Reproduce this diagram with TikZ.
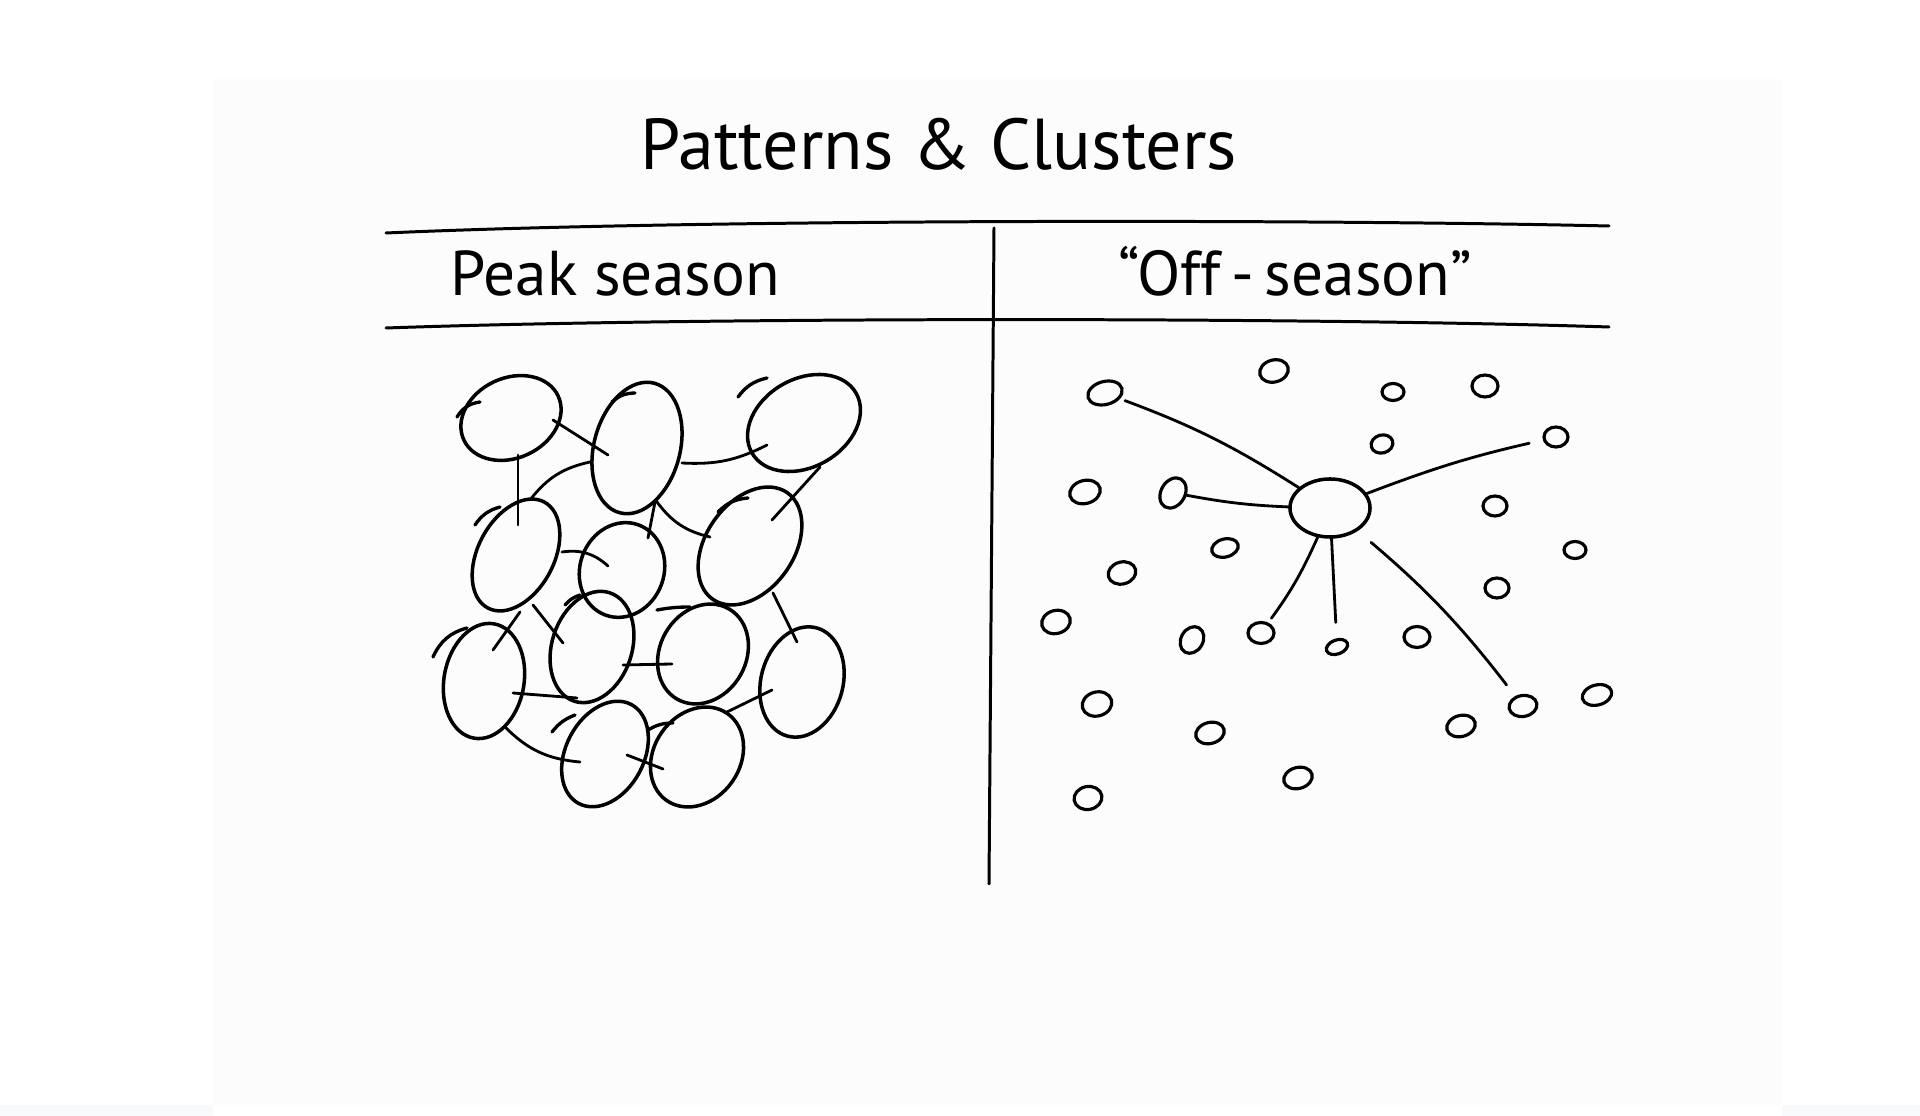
\documentclass[tikz,border=0pt]{standalone}
\usepackage{fontspec}
\setmainfont{PT Sans}
\usetikzlibrary{shapes.geometric,calc}
\definecolor{paperGrey}{HTML}{FCFCFC}
\definecolor{paperBlue}{HTML}{F8F9FB}
\tikzset{
  blob/.style={draw, ellipse, inner sep=0pt, line width=1.0pt},
  dot/.style={draw, ellipse, inner sep=0pt, line width=0.9pt},
  link/.style={line width=0.8pt, line cap=round},
  rule/.style={line width=0.85pt, line cap=round},
}
\begin{document}
\begin{tikzpicture}[x=0.01cm, y=-0.01cm]
  \useasboundingbox (0,0) rectangle (1920,1116);
  \fill[white] (0,0) rectangle (1920,1116);
  \fill[paperGrey] (213,79) rectangle (1782,1105);
  \fill[paperBlue] (0,1105) rectangle (213,1116);
  \fill[paperBlue] (1782,1105) rectangle (1920,1116);
  % title and table
  \node[font=\fontsize{20.5}{25}\selectfont, anchor=base] (title) at (939,170) {Patterns \& Clusters};
  \draw[rule] (386,233) .. controls (700,219) and (1300,219) .. (1609,226);
  \draw[rule] (386,328) .. controls (700,317) and (1300,317) .. (1609,327);
  \draw[rule] (994,228) -- (989,884);
  \node[font=\fontsize{18}{22}\selectfont, anchor=base west] (peak) at (438,296) {Peak season};
  \node[font=\fontsize{18}{22}\selectfont, anchor=base west] (off) at (1106,296) {``Off\,-\,season''};
  % peak season: dense cluster
  \node[blob, minimum width=1.04cm, minimum height=0.80cm, rotate=25] (p1) at (511,418) {};
  \node[blob, minimum width=1.34cm, minimum height=0.86cm, rotate=75] (p2) at (637,448) {};
  \node[blob, minimum width=1.20cm, minimum height=0.88cm, rotate=30] (p3) at (804,423) {};
  \node[blob, minimum width=1.20cm, minimum height=0.76cm, rotate=62] (p4) at (516,555) {};
  \node[blob, minimum width=0.96cm, minimum height=0.84cm, rotate=70] (p5) at (622,570) {};
  \node[blob, minimum width=1.30cm, minimum height=0.88cm, rotate=55] (p6) at (750,546) {};
  \node[blob, minimum width=1.16cm, minimum height=0.80cm, rotate=80] (p7) at (484,681) {};
  \node[blob, minimum width=1.14cm, minimum height=0.80cm, rotate=72] (p8) at (592,647) {};
  \node[blob, minimum width=1.04cm, minimum height=0.86cm, rotate=60] (p9) at (703,654) {};
  \node[blob, minimum width=1.12cm, minimum height=0.82cm, rotate=75] (p10) at (802,682) {};
  \node[blob, minimum width=1.12cm, minimum height=0.78cm, rotate=62] (p11) at (605,754) {};
  \node[blob, minimum width=1.06cm, minimum height=0.86cm, rotate=55] (p12) at (697,757) {};
  \draw[link, line width=0.95pt] ($(p1)+(-54,-1)$) to[bend left=25] ($(p1)+(-31,-16)$);
  \draw[link, line width=0.95pt] ($(p2)+(-25,-46)$) to[bend left=20] ($(p2)+(-2,-55)$);
  \draw[link, line width=0.95pt] ($(p3)+(-66,-26)$) to[bend left=20] ($(p3)+(-37,-45)$);
  \draw[link, line width=0.95pt] ($(p4)+(-41,-30)$) to[bend left=20] ($(p4)+(-16,-48)$);
  \draw[link, line width=0.95pt] ($(p6)+(-32,-34)$) to[bend left=20] ($(p6)+(-2,-48)$);
  \draw[link, line width=0.95pt] ($(p7)+(-51,-24)$) to[bend left=25] ($(p7)+(-17,-53)$);
  \draw[link, line width=0.95pt] ($(p8)+(-27,-42)$) to[bend left=15] ($(p8)+(-12,-52)$);
  \draw[link, line width=0.95pt] ($(p9)+(-46,-44)$) to[bend left=5] ($(p9)+(-13,-47)$);
  \draw[link, line width=0.95pt] ($(p11)+(-53,-22)$) to[bend left=15] ($(p11)+(-30,-39)$);
  \draw[link, line width=0.95pt] ($(p12)+(-49,-27)$) to[bend left=15] ($(p12)+(-24,-34)$);
  \draw[link] ($(p1)+(42,2)$) -- ($(p2)+(-29,7)$);
  \draw[link] ($(p1)+(7,37)$) -- ($(p4)+(2,-30)$);
  \draw[link] ($(p2)+(-47,14)$) to[bend right=20] ($(p4)+(14,-55)$);
  \draw[link] ($(p2)+(45,15)$) to[bend right=15] ($(p3)+(-37,22)$);
  \draw[link] ($(p3)+(16,44)$) -- ($(p6)+(22,-26)$);
  \draw[link] ($(p2)+(18,54)$) -- ($(p5)+(26,-32)$);
  \draw[link] ($(p2)+(20,54)$) to[bend right=20] ($(p6)+(-40,-9)$);
  \draw[link] ($(p4)+(46,-3)$) to[bend left=25] ($(p5)+(-14,-4)$);
  \draw[link] ($(p4)+(4,57)$) -- ($(p7)+(9,-31)$);
  \draw[link] ($(p4)+(17,50)$) -- ($(p8)+(-29,-4)$);
  \draw[link] ($(p6)+(23,47)$) -- ($(p10)+(-5,-40)$);
  \draw[link] ($(p8)+(31,18)$) -- ($(p9)+(-31,10)$);
  \draw[link] ($(p7)+(29,12)$) -- ($(p8)+(-15,51)$);
  \draw[link] ($(p7)+(21,46)$) to[bend right=20] ($(p11)+(-25,8)$);
  \draw[link] ($(p12)+(28,-44)$) -- ($(p10)+(-30,8)$);
  \draw[link] ($(p11)+(22,1)$) -- ($(p12)+(-34,12)$);
  % off-season: one hub, scattered dots
  \node[dot, line width=1.0pt, minimum width=0.80cm, minimum height=0.58cm] (hub) at (1330,508) {};
  \node[dot, minimum width=0.35cm, minimum height=0.23cm, rotate=15] (o1) at (1105,393) {};
  \node[dot, minimum width=0.29cm, minimum height=0.22cm, rotate=15] (o2) at (1274,371) {};
  \node[dot, minimum width=0.22cm, minimum height=0.17cm] (o3) at (1393,392) {};
  \node[dot, minimum width=0.26cm, minimum height=0.22cm] (o4) at (1485,386) {};
  \node[dot, minimum width=0.22cm, minimum height=0.18cm, rotate=15] (o5) at (1382,444) {};
  \node[dot, minimum width=0.24cm, minimum height=0.20cm] (o6) at (1556,437) {};
  \node[dot, minimum width=0.31cm, minimum height=0.23cm, rotate=15] (o7) at (1085,492) {};
  \node[dot, minimum width=0.32cm, minimum height=0.24cm, rotate=60] (o8) at (1173,493) {};
  \node[dot, minimum width=0.24cm, minimum height=0.20cm] (o9) at (1495,506) {};
  \node[dot, minimum width=0.27cm, minimum height=0.18cm, rotate=15] (o10) at (1225,548) {};
  \node[dot, minimum width=0.22cm, minimum height=0.17cm] (o11) at (1575,550) {};
  \node[dot, minimum width=0.28cm, minimum height=0.22cm, rotate=15] (o12) at (1122,573) {};
  \node[dot, minimum width=0.24cm, minimum height=0.20cm] (o13) at (1497,588) {};
  \node[dot, minimum width=0.29cm, minimum height=0.23cm, rotate=15] (o14) at (1056,622) {};
  \node[dot, minimum width=0.28cm, minimum height=0.22cm, rotate=60] (o15) at (1192,640) {};
  \node[dot, minimum width=0.26cm, minimum height=0.21cm] (o16) at (1261,633) {};
  \node[dot, minimum width=0.22cm, minimum height=0.14cm, rotate=20] (o17) at (1337,647) {};
  \node[dot, minimum width=0.26cm, minimum height=0.21cm] (o18) at (1417,637) {};
  \node[dot, minimum width=0.30cm, minimum height=0.24cm, rotate=15] (o19) at (1097,704) {};
  \node[dot, minimum width=0.29cm, minimum height=0.21cm, rotate=15] (o20) at (1210,733) {};
  \node[dot, minimum width=0.29cm, minimum height=0.21cm, rotate=15] (o21) at (1461,726) {};
  \node[dot, minimum width=0.28cm, minimum height=0.21cm, rotate=10] (o22) at (1523,706) {};
  \node[dot, minimum width=0.30cm, minimum height=0.20cm, rotate=15] (o23) at (1597,695) {};
  \node[dot, minimum width=0.29cm, minimum height=0.21cm, rotate=15] (o24) at (1298,778) {};
  \node[dot, minimum width=0.28cm, minimum height=0.23cm, rotate=10] (o25) at (1088,798) {};
  \draw[link, shorten <=1.5pt] (o1) to[bend left=6] (hub);
  \draw[link] (o8) to[bend right=4] (hub);
  \draw[link, shorten >=4pt] (hub) to[bend left=4] (o6);
  \draw[link, shorten >=1.5pt] (hub) to[bend left=6] (o16);
  \draw[link, shorten >=4.5pt] (hub) -- (o17);
  \draw[link, shorten <=5pt, shorten >=4pt] (hub) to[bend left=6] (o22);
\end{tikzpicture}
\end{document}
